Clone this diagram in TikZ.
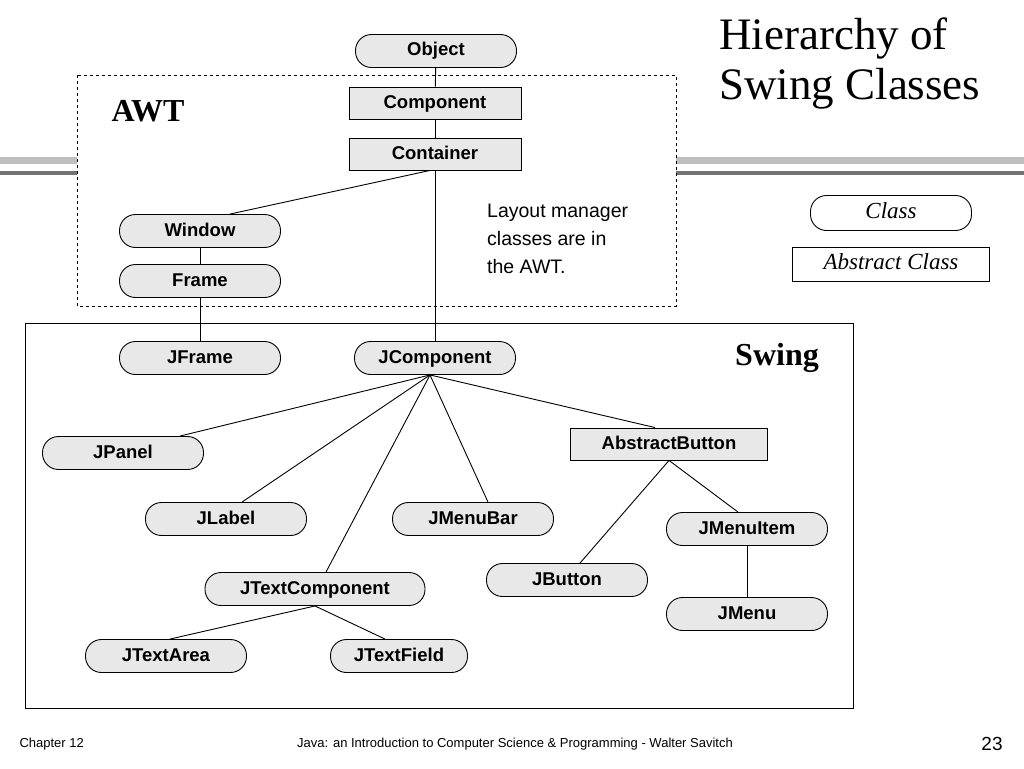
\documentclass[tikz,border=0pt]{standalone}
\usepackage{fontspec}
\setmainfont{Liberation Serif}
\setsansfont{Liberation Sans}
\begin{document}
\begin{tikzpicture}[x=1pt,y=-1pt,
  cls/.style={draw,line width=0.9pt,fill=black!9,rounded corners=16pt,minimum height=33pt,minimum width=161pt,inner sep=0pt,text height=13pt,text depth=3pt,font=\sffamily\bfseries\fontsize{18.5}{20}\selectfont},
  abs/.style={draw,line width=0.9pt,fill=black!9,minimum height=32pt,minimum width=172pt,inner sep=0pt,text height=13pt,text depth=3pt,font=\sffamily\bfseries\fontsize{18.5}{20}\selectfont},
  ln/.style={line width=0.9pt}]
\useasboundingbox (0,0) rectangle (1024,768);
\fill[white] (0,0) rectangle (1024,768);
% decorative bars
\fill[black!25] (0,157) rectangle (77,164);
\fill[black!55] (0,171) rectangle (77,175);
\fill[black!25] (676,157) rectangle (1024,164);
\fill[black!55] (676,171) rectangle (1024,175);
% boxes
\draw[dashed,line width=0.9pt,fill=white] (77,75) rectangle (676,306);
\draw[line width=0.9pt] (25,323) rectangle (853,708);
\node[font=\bfseries\fontsize{32}{34}\selectfont] (awt) at (148,111) {AWT};
\node[font=\bfseries\fontsize{32}{34}\selectfont] (swing) at (777,358) {Swing};
\node[font=\fontsize{45}{50}\selectfont,align=left,anchor=north west,inner sep=0pt] (title) at (719,18) {Hierarchy of\\Swing Classes};
\node[font=\sffamily\fontsize{19.5}{28}\selectfont,align=left,anchor=north west,inner sep=0pt] (note) at (487,204) {Layout manager\\classes are in\\the AWT.};
% nodes
\node[cls] (object) at (436,51) {Object};
\node[abs] (component) at (435,103) {Component};
\node[abs] (container) at (435,154) {Container};
\node[cls] (window) at (200,231) {Window};
\node[cls] (frame) at (200,281) {Frame};
\node[cls] (jframe) at (200,358) {JFrame};
\node[cls] (jcomponent) at (435,358) {JComponent};
\node[cls] (jpanel) at (123,453) {JPanel};
\node[abs,minimum width=197pt] (abutton) at (669,444) {AbstractButton};
\node[cls] (jlabel) at (226,519) {JLabel};
\node[cls] (jmenubar) at (473,519) {JMenuBar};
\node[cls] (jmenuitem) at (747,529) {JMenuItem};
\node[cls] (jbutton) at (567,580) {JButton};
\node[cls,minimum width=220pt] (jtext) at (315,589) {JTextComponent};
\node[cls] (jmenu) at (747,614) {JMenu};
\node[cls] (jtextarea) at (166,656) {JTextArea};
\node[cls,minimum width=137pt] (jtextfield) at (399,656) {JTextField};
\node[cls,fill=white,font=\itshape\fontsize{23}{25}\selectfont,minimum height=35pt,text height=16pt,text depth=5pt] (lclass) at (891,213) {Class};
\node[abs,fill=white,minimum width=197pt,minimum height=34pt,text height=16pt,text depth=5pt,font=\itshape\fontsize{23}{25}\selectfont] (labs) at (891,264) {Abstract Class};
% connectors
\draw[ln] (object) -- (component);
\draw[ln] (component) -- (container);
\coordinate (cs) at ([xshift=-5pt]container.south);
\draw[ln] (cs) -- ([xshift=30pt]window.north);
\draw[ln] (container) -- (jcomponent);
\draw[ln] (window) -- (frame);
\draw[ln] (frame) -- (jframe);
\coordinate (jc) at ([xshift=-5pt]jcomponent.south);
\draw[ln] (jc) -- ([xshift=57pt]jpanel.north);
\draw[ln] (jc) -- ([xshift=16pt]jlabel.north);
\draw[ln] (jc) -- ([xshift=11pt]jtext.north);
\draw[ln] (jc) -- ([xshift=15pt]jmenubar.north);
\draw[ln] (jc) -- ([xshift=-14pt]abutton.north);
\draw[ln] (abutton.south) -- ([xshift=13pt]jbutton.north);
\draw[ln] (abutton.south) -- ([xshift=-9pt]jmenuitem.north);
\draw[ln] (jmenuitem) -- (jmenu);
\draw[ln] (jtext.south) -- ([xshift=4pt]jtextarea.north);
\draw[ln] (jtext.south) -- ([xshift=-14pt]jtextfield.north);
% footer
\node[font=\sffamily\fontsize{13}{15}\selectfont,anchor=west] (ch) at (16,744) {Chapter 12};
\node[font=\sffamily\fontsize{13}{15}\selectfont] (book) at (515,744) {Java: an Introduction to Computer Science \& Programming - Walter Savitch};
\node[font=\sffamily\fontsize{19}{21}\selectfont] (pg) at (992,744) {23};
\end{tikzpicture}
\end{document}
